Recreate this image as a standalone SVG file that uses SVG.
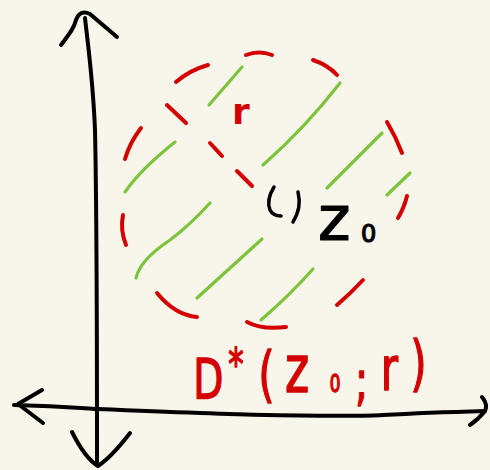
<svg xmlns="http://www.w3.org/2000/svg" width="490" height="470" viewBox="0 0 490 470">
<style>
.ax{fill:none;stroke:#000;stroke-width:4;stroke-linecap:round;stroke-linejoin:round}
.rd{fill:none;stroke:#d40000;stroke-width:4;stroke-linecap:round}
.gr{fill:none;stroke:#7cc43c;stroke-width:3.2;stroke-linecap:round}
.pt{fill:none;stroke:#000;stroke-width:3.5;stroke-linecap:round}
.hw{font-family:"DejaVu Sans","Liberation Sans",sans-serif;stroke-linejoin:round}
</style>
<rect width="490" height="470" fill="#f8f6ea"/>
<g id="axes">
<path class="ax" d="M85 18 C88 45 93 80 95 130 C97 220 97 330 97 463"/>
<path class="ax" d="M61 45 C70 33 74 28 76 20 C79 12 84 11 90 14 L117 37"/>
<path class="ax" d="M72 432 C80 448 88 460 98 466 C110 458 120 446 130 433"/>
<path class="ax" d="M14 405 C60 406 80 408 97 409 C170 412 220 414 267 415 C330 416 370 416 383 415 C420 413 450 412 485 411"/>
<path class="ax" d="M42 390 L18 404 L43 423"/>
<path class="ax" d="M482 397 C486 402 487 407 485 411 C481 416 476 421 470 425"/>
</g>
<g id="disk-boundary">
<path class="rd" d="M176 82 Q190 70 208 65"/>
<path class="rd" d="M246 55 Q259 50 272 55"/>
<path class="rd" d="M313 60 Q328 65 337 75"/>
<path class="rd" d="M387 122 Q396 137 402 153"/>
<path class="rd" d="M407 196 Q404 208 398 218"/>
<path class="rd" d="M363 280 Q350 294 337 305"/>
<path class="rd" d="M247 322 Q262 330 286 327"/>
<path class="rd" d="M157 293 Q175 315 197 317"/>
<path class="rd" d="M123 215 Q120 230 126 245"/>
<path class="rd" d="M141 128 Q130 142 125 159"/>
</g>
<g id="radius">
<path class="rd" d="M167 105 L186 123"/>
<path class="rd" d="M210 143 L222 156"/>
<path class="rd" d="M237 171 L252 186"/>
<text class="hw" x="232" y="124" font-size="36" fill="#d40000" font-weight="bold">r</text>
</g>
<g id="hatching">
<path class="gr" d="M209 105 L242 67"/>
<path class="gr" d="M263 165 Q305 128 340 83"/>
<path class="gr" d="M125 192 Q140 170 175 142"/>
<path class="gr" d="M327 188 L382 133"/>
<path class="gr" d="M387 195 L410 173"/>
<path class="gr" d="M136 278 Q140 260 170 240 Q190 225 210 203"/>
<path class="gr" d="M197 298 L262 239"/>
<path class="gr" d="M261 320 Q290 295 313 269"/>
</g>
<g id="center">
<path class="pt" d="M274 187 Q266 200 270 210 Q273 216 281 216"/>
<path class="pt" d="M298 192 Q302 208 293 222"/>
<text class="hw" x="318" y="240" font-size="62" fill="#000" stroke="#000" stroke-width="1.2">z<tspan x="361" y="242" font-size="24">0</tspan></text>
</g>
<g id="label">
<text class="hw" transform="scale(0.7 1)" font-size="56" fill="#d40000" stroke="#d40000" stroke-width="1.5"><tspan x="276" y="398">D</tspan><tspan x="326" y="380" font-size="44">*</tspan><tspan x="369" y="395" font-size="60">(</tspan><tspan x="407" y="392" font-size="66">z</tspan><tspan x="471" y="392" font-size="24">0</tspan><tspan x="507" y="400">;</tspan><tspan x="544" y="390" font-size="60">r</tspan><tspan x="586" y="384" font-size="60">)</tspan></text>
</g>
</svg>
